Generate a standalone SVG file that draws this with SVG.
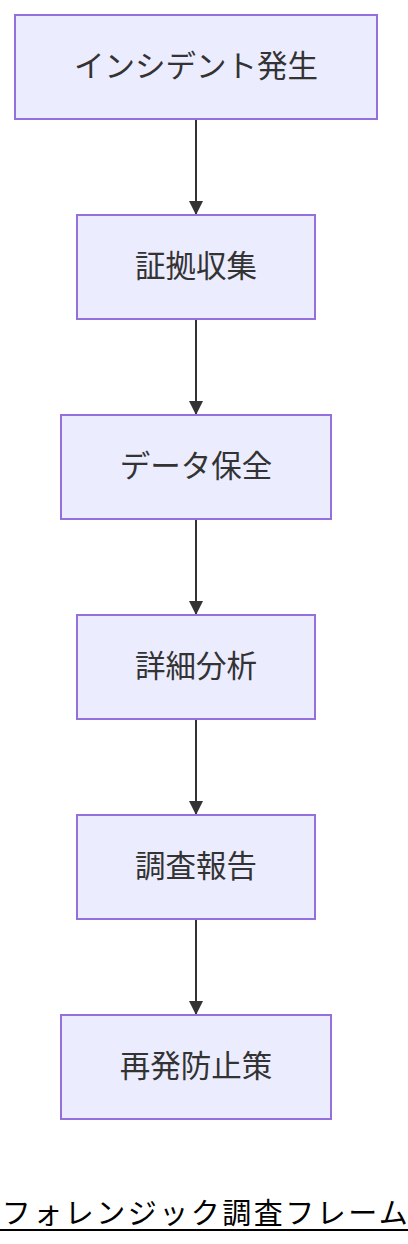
<svg xmlns="http://www.w3.org/2000/svg" width="408" height="1244" viewBox="0 0 408 1244">
<style>
.node rect{fill:#ECECFF;stroke:#9370DB;stroke-width:2}
.node text{font-family:"Noto Sans CJK JP","Noto Sans",sans-serif;font-size:30.5px;fill:#333333;text-anchor:middle;dominant-baseline:central}
.edge{stroke:#333333;stroke-width:2;fill:none}
.title{font-family:"Noto Sans CJK JP","Noto Sans",sans-serif;font-size:29px;fill:#000000;text-anchor:middle;letter-spacing:2.5px}
</style>
<defs>
<marker id="arrow" viewBox="0 0 14 14" refX="14" refY="7" markerWidth="14" markerHeight="14" markerUnits="userSpaceOnUse" orient="auto">
<path d="M0,0 L14,7 L0,14 z" fill="#333333"/>
</marker>
</defs>
<rect width="408" height="1244" fill="#ffffff"/>
<g id="connectors">
<line class="edge" x1="196" y1="119" x2="196" y2="215" marker-end="url(#arrow)"/>
<line class="edge" x1="196" y1="319" x2="196" y2="415" marker-end="url(#arrow)"/>
<line class="edge" x1="196" y1="519" x2="196" y2="615" marker-end="url(#arrow)"/>
<line class="edge" x1="196" y1="719" x2="196" y2="815" marker-end="url(#arrow)"/>
<line class="edge" x1="196" y1="919" x2="196" y2="1015" marker-end="url(#arrow)"/>
</g>
<g id="n1" class="node"><rect x="15" y="15" width="362" height="104"/><text x="196" y="64">インシデント発生</text></g>
<g id="n2" class="node"><rect x="77" y="215" width="238" height="104"/><text x="196" y="264">証拠収集</text></g>
<g id="n3" class="node"><rect x="61" y="415" width="270" height="104"/><text x="196" y="464">データ保全</text></g>
<g id="n4" class="node"><rect x="77" y="615" width="238" height="104"/><text x="196" y="664">詳細分析</text></g>
<g id="n5" class="node"><rect x="77" y="815" width="238" height="104"/><text x="196" y="864">調査報告</text></g>
<g id="n6" class="node"><rect x="61" y="1015" width="270" height="104"/><text x="196" y="1064">再発防止策</text></g>
<g id="title">
<text class="title" x="206" y="1224">フォレンジック調査フレーム</text>
<line x1="0" y1="1230" x2="408" y2="1230" stroke="#000000" stroke-width="2"/>
</g>
</svg>
